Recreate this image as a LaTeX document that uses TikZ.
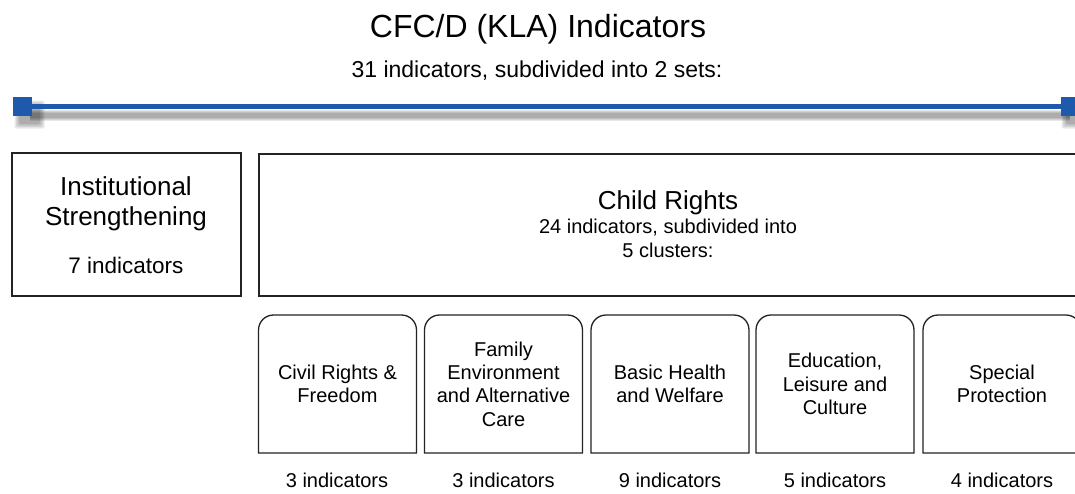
\documentclass[tikz,border=0pt]{standalone}
\usepackage{fontspec}
\setmainfont{Liberation Sans}
\definecolor{barblue}{RGB}{31,89,172}
\definecolor{boxline}{RGB}{35,35,35}
\tikzset{
  titletext/.style={font=\fontsize{32}{38}\selectfont, anchor=base, inner sep=0pt},
  subtext/.style={font=\fontsize{23}{27}\selectfont, anchor=base, inner sep=0pt},
  bigtext/.style={font=\fontsize{26}{30}\selectfont, anchor=base, inner sep=0pt},
  midtext/.style={font=\fontsize{22.5}{26}\selectfont, anchor=base, inner sep=0pt},
  smalltext/.style={font=\fontsize{20}{23}\selectfont, anchor=base, inner sep=0pt},
  outline/.style={draw=boxline, line width=1.3pt},
  plainbox/.style={outline, rectangle, inner sep=0pt, outer sep=0pt},
  clusterbox/.style={rectangle, inner sep=0pt, outer sep=0pt, minimum width=158pt,
    minimum height=138pt, align=center, font=\fontsize{20}{23.3}\selectfont},
  endsquare/.style={rectangle, fill=barblue, inner sep=0pt, outer sep=0pt, minimum size=19pt},
}
\newcommand\topround[1]{%
  \draw[outline] (#1.south west) -- ([yshift=-15pt]#1.north west)
    arc[start angle=180,end angle=90,radius=15pt]
    -- ([xshift=-15pt]#1.north east)
    arc[start angle=90,end angle=0,radius=15pt]
    -- (#1.south east) -- cycle;}
\begin{document}
\begin{tikzpicture}[x=1pt,y=1pt]
\useasboundingbox (0,0) rectangle (1075,-493);
\clip (0,0) rectangle (1075,-493);
\fill[white] (0,0) rectangle (1075,-493);

% title
\node[titletext] (title) at (538,-37) {CFC/D (KLA) Indicators};
\node[subtext] (subtitle) at (537,-77) {31 indicators, subdivided into 2 sets:};

% shadow of the bar
\foreach \g in {0,1.5,3,4.5}{
  \fill[black, opacity=0.09, rounded corners=2pt] (19-\g,-105+\g) rectangle (40+\g,-124-\g);
  \fill[black, opacity=0.09, rounded corners=2pt] (1066-\g,-105+\g) rectangle (1087+\g,-124-\g);
  \fill[black, opacity=0.09] (30,-113+\g*0.6) rectangle (1070,-118-\g*0.6);
}
% bar
\node[endsquare] (sqL) at (22.5,-106.5) {};
\node[endsquare] (sqR) at (1070.5,-106.5) {};
\draw[barblue, line width=5pt] (sqL.east) -- (sqR.west);

% sets
\node[plainbox, minimum width=229pt, minimum height=143pt] (inst) at (126.5,-224.5) {};
\node[bigtext] (instA) at (126,-195) {Institutional};
\node[bigtext] (instB) at (126,-225) {Strengthening};
\node[midtext] (instC) at (126,-273) {7 indicators};

\node[plainbox, minimum width=819pt, minimum height=142pt] (child) at (668.5,-225) {};
\node[bigtext] (childA) at (668,-209) {Child Rights};
\node[smalltext] (childB) at (668,-233) {24 indicators, subdivided into};
\node[smalltext] (childC) at (668,-257) {5 clusters:};

% clusters
\node[clusterbox] (c1) at (337.5,-384) {Civil Rights \&\\Freedom};
\node[clusterbox] (c2) at (503.5,-384) {Family\\Environment\\and Alternative\\Care};
\node[clusterbox] (c3) at (670,-384) {Basic Health\\and Welfare};
\node[clusterbox] (c4) at (835,-384) {Education,\\Leisure and\\Culture};
\node[clusterbox] (c5) at (1002,-384) {Special\\Protection};
\topround{c1}\topround{c2}\topround{c3}\topround{c4}\topround{c5}

\node[smalltext] (n1) at (337,-487) {3 indicators};
\node[smalltext] (n2) at (503.5,-487) {3 indicators};
\node[smalltext] (n3) at (670,-487) {9 indicators};
\node[smalltext] (n4) at (835,-487) {5 indicators};
\node[smalltext] (n5) at (1002,-487) {4 indicators};
\end{tikzpicture}
\end{document}
